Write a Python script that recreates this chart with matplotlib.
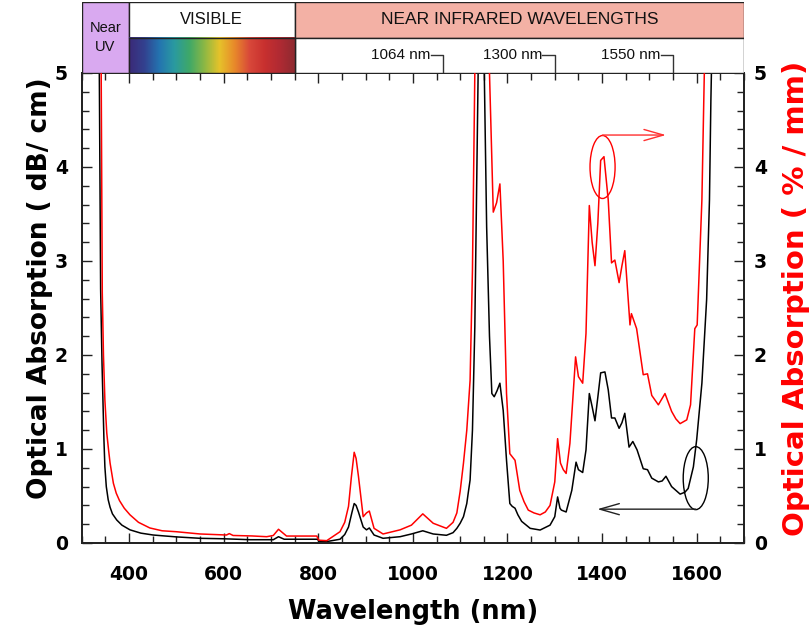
import matplotlib
matplotlib.use("Agg")
import matplotlib.pyplot as plt
from matplotlib.patches import Ellipse, Rectangle, FancyArrowPatch
from matplotlib.colors import LinearSegmentedColormap
from matplotlib.ticker import MultipleLocator
import numpy as np

# ---------------- data ----------------
black_nm = [330, 337, 340, 343, 345, 347, 349, 352, 356, 360, 365, 374, 385, 402, 425,
            451, 475, 500, 550, 600, 656, 705, 716, 728, 761, 799, 801, 818, 846, 856,
            864, 871, 876, 880, 885, 895, 902, 908, 918, 937, 973, 997, 1021, 1043,
            1071, 1085, 1093, 1100, 1107, 1114, 1117, 1121, 1126, 1131, 1138, 1145,
            1151, 1156, 1162, 1167, 1172, 1178, 1184, 1191, 1198, 1205, 1210, 1216,
            1222, 1230, 1248, 1269, 1290, 1300, 1306, 1311, 1314, 1324, 1336, 1345,
            1350, 1359, 1366, 1373, 1379, 1385, 1391, 1397, 1406, 1413, 1420, 1427,
            1436, 1442, 1448, 1457, 1465, 1474, 1487, 1496, 1505, 1519, 1527, 1535,
            1547, 1556, 1565, 1575, 1582, 1593, 1600, 1611, 1621, 1627, 1630, 1635,
            1650]
black_db_cm = [12.0, 5.2, 2.7, 1.9, 1.5, 1.1, 0.81, 0.6, 0.46, 0.38, 0.31, 0.245, 0.19,
               0.14, 0.105, 0.085, 0.075, 0.065, 0.05, 0.045, 0.035, 0.035, 0.067,
               0.04, 0.04, 0.04, 0.02, 0.015, 0.04, 0.09, 0.17, 0.32, 0.42, 0.40, 0.33,
               0.17, 0.14, 0.16, 0.085, 0.05, 0.067, 0.096, 0.13, 0.096, 0.082, 0.11,
               0.156, 0.21, 0.28, 0.42, 0.53, 0.67, 1.2, 2.3, 5.0, 9.0, 5.0, 3.36, 2.2,
               1.59, 1.556, 1.62, 1.70, 1.41, 0.88, 0.42, 0.39, 0.37, 0.30, 0.23,
               0.156, 0.138, 0.19, 0.28, 0.49, 0.37, 0.35, 0.33, 0.56, 0.86, 0.78, 0.75,
               0.99, 1.59, 1.45, 1.30, 1.55, 1.81, 1.82, 1.63, 1.33, 1.33, 1.22, 1.28,
               1.38, 1.02, 1.08, 0.99, 0.79, 0.78, 0.69, 0.65, 0.66, 0.71, 0.60, 0.56,
               0.52, 0.54, 0.58, 0.81, 1.10, 1.70, 2.59, 3.65, 4.71, 6.0, 10.0]

red_nm = [330, 341, 343.5, 346, 349, 353, 357, 360, 367, 373, 380, 390, 402, 420, 444,
          470, 500, 550, 606, 612, 620, 660, 691, 705, 716, 733, 797, 801, 818, 846,
          856, 864, 870, 876, 880, 885, 895, 902, 908, 918, 937, 973, 997, 1021, 1043,
          1071, 1085, 1093, 1100, 1107, 1114, 1121, 1126, 1131, 1145, 1162, 1170, 1177,
          1184, 1191, 1198, 1205, 1216, 1226, 1235, 1244, 1256, 1269, 1280, 1290,
          1300, 1306, 1312, 1318, 1324, 1332, 1344, 1350, 1359, 1366, 1373, 1379,
          1385, 1391, 1397, 1404, 1413, 1420, 1427, 1436, 1442, 1448, 1459, 1462,
          1473, 1487, 1496, 1505, 1519, 1533, 1547, 1556, 1565, 1579, 1587, 1596,
          1601, 1611, 1615, 1620, 1640]
red_pct_mm = [20.0, 5.2, 2.66, 2.0, 1.52, 1.17, 0.98, 0.85, 0.635, 0.53, 0.45, 0.37,
              0.30, 0.22, 0.16, 0.13, 0.12, 0.096, 0.085, 0.10, 0.08, 0.075, 0.067,
              0.08, 0.146, 0.074, 0.074, 0.03, 0.025, 0.12, 0.22, 0.39, 0.70, 0.965,
              0.90, 0.71, 0.28, 0.32, 0.34, 0.156, 0.096, 0.14, 0.19, 0.31, 0.21,
              0.156, 0.22, 0.32, 0.55, 0.85, 1.2, 1.73, 2.9, 5.0, 14.0, 5.0, 3.52,
              3.62, 3.82, 3.0, 1.59, 0.95, 0.88, 0.56, 0.44, 0.35, 0.32, 0.30, 0.33,
              0.40, 0.65, 1.11, 0.85, 0.78, 0.74, 1.06, 1.98, 1.77, 1.70, 2.23, 3.59,
              3.2, 2.95, 3.4, 4.07, 4.11, 3.65, 2.98, 3.01, 2.77, 2.95, 3.11, 2.32,
              2.44, 2.28, 1.79, 1.80, 1.57, 1.47, 1.59, 1.40, 1.32, 1.27, 1.31, 1.47,
              2.28, 2.32, 3.65, 4.71, 6.0, 12.0]

x_ticks = [400, 600, 800, 1000, 1200, 1400, 1600]
y_ticks = [0, 1, 2, 3, 4, 5]
laser_lines = [1064, 1300, 1550]
laser_labels = ["1064 nm", "1300 nm", "1550 nm"]
band_edges = [300, 400, 750, 1700]
band_titles = ["Near\nUV", "VISIBLE", "NEAR INFRARED WAVELENGTHS"]

# ---------------- figure ----------------
W, H = 812, 634
fig = plt.figure(figsize=(W / 100, H / 100), dpi=100)
fig.patch.set_facecolor("white")

L, R, B, T = 81.7, 744, 543, 73
ax = fig.add_axes([L / W, 1 - B / H, (R - L) / W, (B - T) / H])
ax2 = ax.twinx()

ax.plot(black_nm, black_db_cm, color="black", lw=1.1, zorder=3)
ax2.plot(red_nm, red_pct_mm, color="#ff0000", lw=1.1, zorder=3)

ax.set_xlim(300, 1700)
ax.set_ylim(0, 5)
ax2.set_ylim(0, 5)
ax.set_xticks(x_ticks)
ax.xaxis.set_minor_locator(MultipleLocator(50))
ax.set_yticks(y_ticks)
ax.yaxis.set_minor_locator(MultipleLocator(0.2))
ax2.set_yticks(y_ticks)
ax2.yaxis.set_minor_locator(MultipleLocator(0.2))

ax.tick_params(axis="both", which="both", direction="in", top=True, right=False,
               width=1.0, color="#222222")
ax.tick_params(axis="both", which="major", length=7)
ax.tick_params(axis="both", which="minor", length=5)
ax.tick_params(axis="x", which="major", pad=16)
ax.tick_params(axis="y", which="major", pad=10)
ax2.tick_params(axis="y", which="both", direction="in", width=1.0, color="#222222")
ax2.tick_params(axis="y", which="major", length=7, pad=7)
ax2.tick_params(axis="y", which="minor", length=5)

for lab in ax.get_xticklabels() + ax.get_yticklabels() + ax2.get_yticklabels():
    lab.set_fontfamily("DejaVu Sans")
    lab.set_fontweight("bold")
    lab.set_fontsize(13.5)
    lab.set_color("black")

for a in (ax, ax2):
    for s in a.spines.values():
        s.set_linewidth(1.3)
        s.set_color("#222222")

# axis labels
fig.text(40 / W, 1 - 288 / H, "Optical Absorption ( dB/ cm)", rotation=90,
         ha="center", va="center", family="DejaVu Sans", weight="bold", size=19)
fig.text(796 / W, 1 - 298 / H, "Optical Absorption ( % / mm)", rotation=90,
         ha="center", va="center", family="DejaVu Sans", weight="bold", size=21,
         color="#ff0000")
fig.text(413 / W, 1 - 612 / H, "Wavelength (nm)", ha="center", va="center",
         family="DejaVu Sans", weight="bold", size=18.5)

# annotations: ellipses + arrows
ax2.add_patch(Ellipse((1401, 4.0), 53, 0.67, fill=False, ec="#ff0000", lw=1.0, zorder=4))
ax2.add_patch(FancyArrowPatch((1401, 4.34), (1535, 4.34),
                              arrowstyle="->,head_length=14,head_width=4",
                              mutation_scale=1, color="#ff3030", lw=1.0,
                              shrinkA=0, shrinkB=0, zorder=4))
ax.add_patch(Ellipse((1598, 0.69), 53, 0.67, fill=False, ec="black", lw=1.0, zorder=4))
ax.add_patch(FancyArrowPatch((1598, 0.36), (1390, 0.36),
                             arrowstyle="->,head_length=14,head_width=4",
                             mutation_scale=1, color="#222222", lw=1.0,
                             shrinkA=0, shrinkB=0, zorder=4))

# ---------------- top band ----------------
bt, bb = 2, T
band = fig.add_axes([L / W, 1 - bb / H, (R - L) / W, (bb - bt) / H])
band.set_xlim(300, 1700)
band.set_ylim(0, 2)
band.axis("off")

uv_col = "#d9a9f0"
nir_col = "#f3b1a5"
edge = dict(ec="#222222", lw=1.0)
band.add_patch(Rectangle((band_edges[0], 0), band_edges[1] - band_edges[0], 2,
                         fc=uv_col, **edge))
band.add_patch(Rectangle((band_edges[1], 1), band_edges[2] - band_edges[1], 1,
                         fc="white", **edge))
band.add_patch(Rectangle((band_edges[2], 1), band_edges[3] - band_edges[2], 1,
                         fc=nir_col, **edge))
band.add_patch(Rectangle((band_edges[2], 0), band_edges[3] - band_edges[2], 1,
                         fc="white", **edge))

spec_cmap = LinearSegmentedColormap.from_list(
    "spec", ["#3b2a78", "#33418f", "#2474b0", "#2a9aa0", "#3fa868", "#8cb844",
             "#e6c22a", "#e88a2a", "#d8483a", "#c8302f", "#b02a33", "#8e2a30"])
grad = np.linspace(0, 1, 256).reshape(1, -1)
band.imshow(grad, cmap=spec_cmap, aspect="auto",
            extent=(band_edges[1], band_edges[2], 0, 1), zorder=2)
band.add_patch(Rectangle((band_edges[1], 0), band_edges[2] - band_edges[1], 1,
                         fill=False, zorder=3, **edge))

txt = dict(family="Liberation Sans", color="#111111")
band.text(350, 1.0, band_titles[0], ha="center", va="center", size=10.5,
          linespacing=1.45, **txt)
band.text(575, 1.5, band_titles[1], ha="center", va="center", size=12, **txt)
band.text(1225, 1.5, band_titles[2], ha="center", va="center", size=12.5, **txt)

for wl, lab in zip(laser_lines, laser_labels):
    band.plot([wl - 26, wl, wl], [0.52, 0.52, 0.0], color="#333333", lw=1.0)
    band.text(wl - 27, 0.52, lab, ha="right", va="center", size=11, **txt)

fig.savefig("out.png", dpi=100)
